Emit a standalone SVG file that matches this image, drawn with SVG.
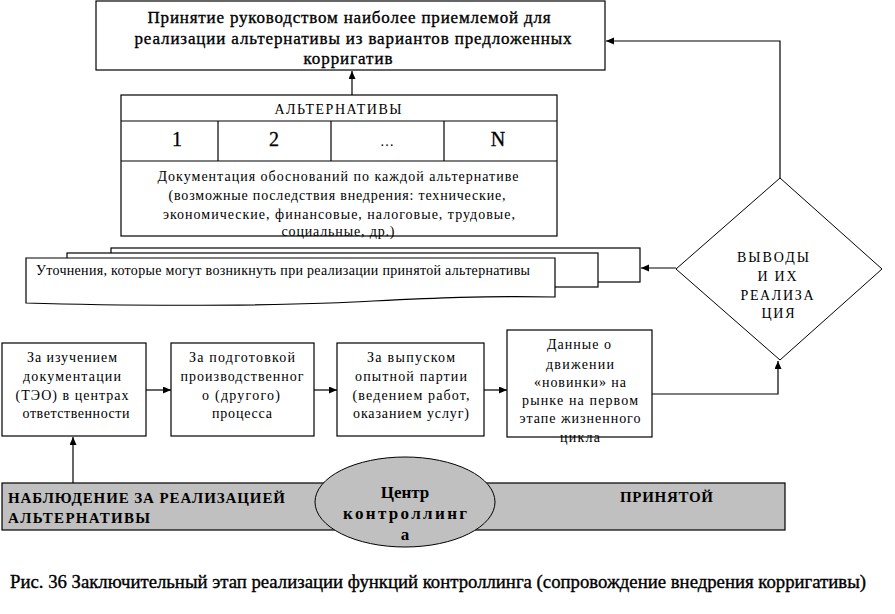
<svg xmlns="http://www.w3.org/2000/svg" width="895" height="614" viewBox="0 0 895 614">
<style>
text{font-family:"Liberation Serif","Times New Roman",serif;fill:#000;}
.box{fill:#fff;stroke:#000;stroke-width:1.2;}
.c{text-anchor:middle;}
.t17{font-size:17px;stroke:#000;stroke-width:0.35;}
.t14{font-size:14px;}
.t20{font-size:20px;stroke:#000;stroke-width:0.3;}
.b{font-weight:bold;}
.con{fill:none;stroke:#000;stroke-width:1.2;}
.gray{fill:#c0c0c0;stroke:#000;stroke-width:1.2;}
.cap{font-size:18px;stroke:#000;stroke-width:0.35;}
</style>
<defs>
<marker id="arr" markerUnits="userSpaceOnUse" markerWidth="9" markerHeight="8" refX="8" refY="3.5" orient="auto">
<path d="M0,0 L8,3.5 L0,7 Z" fill="#000"/>
</marker>
</defs>
<rect width="895" height="614" fill="#fff"/>

<g id="decision-top">
<rect class="box" x="96" y="1" width="509" height="69"/>
<text class="c t17" x="349" y="23" textLength="403" lengthAdjust="spacing">Принятие руководством наиболее приемлемой для</text>
<text class="c t17" x="353" y="44" textLength="437" lengthAdjust="spacing">реализации альтернативы из вариантов предложенных</text>
<text class="c t17" x="348" y="64" textLength="89" lengthAdjust="spacing">корригатив</text>
</g>

<g id="alternatives">
<rect class="box" x="121" y="95" width="436" height="141"/>
<line class="con" x1="121" y1="121" x2="557" y2="121"/>
<line class="con" x1="121" y1="161" x2="557" y2="161"/>
<line class="con" x1="218" y1="121" x2="218" y2="161"/>
<line class="con" x1="331" y1="121" x2="331" y2="161"/>
<line class="con" x1="444" y1="121" x2="444" y2="161"/>
<text class="c t14" x="338" y="114" textLength="127" lengthAdjust="spacing">АЛЬТЕРНАТИВЫ</text>
<text class="c t20" x="177" y="146">1</text>
<text class="c t20" x="274" y="146">2</text>
<text class="c t14" x="387" y="146" textLength="20" lengthAdjust="spacing">…</text>
<text class="c t20" x="498" y="146">N</text>
<text class="c t14" x="338" y="181" textLength="361" lengthAdjust="spacing">Документация обоснований по каждой альтернативе</text>
<text class="c t14" x="337" y="200" textLength="337" lengthAdjust="spacing">(возможные последствия внедрения: технические,</text>
<text class="c t14" x="339" y="219" textLength="352" lengthAdjust="spacing">экономические, финансовые, налоговые, трудовые,</text>
<text class="c t14" x="338" y="236" textLength="113" lengthAdjust="spacing">социальные, др.)</text>
</g>

<g id="refinements">
<rect class="box" x="111" y="248" width="529" height="34"/>
<rect class="box" x="67" y="253" width="531" height="34"/>
<path class="box" d="M26,258 H555 V297 C470,295 400,300 330,303 C250,306 120,306 26,303 Z"/>
<text class="t14" x="36" y="275" textLength="494" lengthAdjust="spacing">Уточнения, которые могут возникнуть при реализации принятой альтернативы</text>
</g>

<g id="conclusions">
<polygon class="box" points="780,178 882,269 780,360 676,269" style="stroke-width:1"/>
<text class="c t14" x="773" y="262" textLength="72" lengthAdjust="spacing">ВЫВОДЫ</text>
<text class="c t14" x="777" y="281" textLength="39" lengthAdjust="spacing">И ИХ</text>
<text class="c t14" x="777" y="300" textLength="73" lengthAdjust="spacing">РЕАЛИЗА</text>
<text class="c t14" x="778" y="318" textLength="33" lengthAdjust="spacing">ЦИЯ</text>
</g>

<g id="box-docs">
<rect class="box" x="2" y="343" width="144" height="93"/>
<text class="c t14" x="72" y="362" textLength="90" lengthAdjust="spacing">За изучением</text>
<text class="c t14" x="72" y="381" textLength="98" lengthAdjust="spacing">документации</text>
<text class="c t14" x="72" y="400" textLength="113" lengthAdjust="spacing">(ТЭО) в центрах</text>
<text class="c t14" x="76" y="418" textLength="107" lengthAdjust="spacing">ответственности</text>
</g>

<g id="box-prep">
<rect class="box" x="171" y="343" width="143" height="93"/>
<text class="c t14" x="242" y="362" textLength="106" lengthAdjust="spacing">За подготовкой</text>
<text class="c t14" x="242" y="381" textLength="123" lengthAdjust="spacing">производственног</text>
<text class="c t14" x="241" y="400" textLength="78" lengthAdjust="spacing">о (другого)</text>
<text class="c t14" x="242" y="418" textLength="60" lengthAdjust="spacing">процесса</text>
</g>

<g id="box-batch">
<rect class="box" x="337" y="343" width="147" height="93"/>
<text class="c t14" x="411" y="362" textLength="88" lengthAdjust="spacing">За выпуском</text>
<text class="c t14" x="411" y="381" textLength="112" lengthAdjust="spacing">опытной партии</text>
<text class="c t14" x="411" y="400" textLength="117" lengthAdjust="spacing">(ведением работ,</text>
<text class="c t14" x="411" y="418" textLength="116" lengthAdjust="spacing">оказанием услуг)</text>
</g>

<g id="box-market">
<rect class="box" x="507" y="330" width="145" height="107"/>
<text class="c t14" x="579" y="349" textLength="64" lengthAdjust="spacing">Данные о</text>
<text class="c t14" x="580" y="369" textLength="68" lengthAdjust="spacing">движении</text>
<text class="c t14" x="580" y="387" textLength="92" lengthAdjust="spacing">«новинки» на</text>
<text class="c t14" x="580" y="405" textLength="116" lengthAdjust="spacing">рынке на первом</text>
<text class="c t14" x="580" y="423" textLength="121" lengthAdjust="spacing">этапе жизненного</text>
<text class="c t14" x="580" y="442" textLength="40" lengthAdjust="spacing">цикла</text>
</g>

<g id="monitoring">
<rect class="gray" x="2" y="483" width="783" height="47"/>
<text class="b" x="8" y="503" style="font-size:15px" textLength="277" lengthAdjust="spacing">НАБЛЮДЕНИЕ ЗА РЕАЛИЗАЦИЕЙ</text>
<text class="b" x="8" y="523" style="font-size:15px" textLength="142" lengthAdjust="spacing">АЛЬТЕРНАТИВЫ</text>
<text class="b" x="620" y="502" style="font-size:15px" textLength="93" lengthAdjust="spacing">ПРИНЯТОЙ</text>
</g>

<g id="controlling-center">
<ellipse class="gray" cx="405" cy="502" rx="90" ry="45" style="stroke-width:1"/>
<text class="c b" x="405" y="498" style="font-size:17px">Центр</text>
<text class="c b" x="405" y="519" style="font-size:17px" textLength="124" lengthAdjust="spacing">контроллинг</text>
<text class="c b" x="405" y="540" style="font-size:17px">а</text>
</g>

<g id="connectors">
<line class="con" x1="352" y1="95" x2="352" y2="71" marker-end="url(#arr)"/>
<polyline class="con" points="780,178 780,41 606,41" marker-end="url(#arr)"/>
<line class="con" x1="676" y1="268" x2="641" y2="268" marker-end="url(#arr)"/>
<line class="con" x1="146" y1="390" x2="171" y2="390" marker-end="url(#arr)"/>
<line class="con" x1="314" y1="390" x2="337" y2="390" marker-end="url(#arr)"/>
<line class="con" x1="484" y1="390" x2="507" y2="390" marker-end="url(#arr)"/>
<polyline class="con" points="652,394 778,394 778,361" marker-end="url(#arr)"/>
<line class="con" x1="73" y1="483" x2="73" y2="437" marker-end="url(#arr)"/>
</g>

<text class="cap" x="10" y="588" textLength="856" lengthAdjust="spacingAndGlyphs">Рис. 36 Заключительный этап реализации функций контроллинга (сопровождение внедрения корригативы)</text>
</svg>
